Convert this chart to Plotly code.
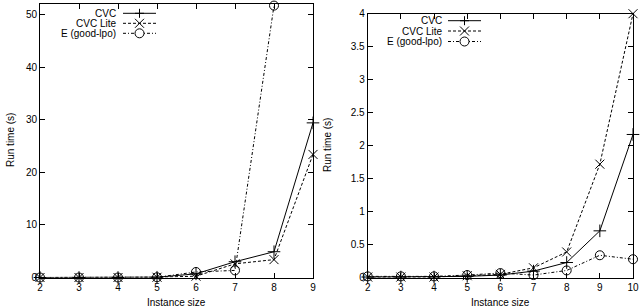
import plotly.graph_objects as go

# Left panel data
sizes_left = [2, 3, 4, 5, 6, 7, 8, 9]
cvc_left = [0.0, 0.0, 0.0, 0.05, 0.7, 3.0, 4.9, 29.4]
cvclite_left = [0.0, 0.0, 0.0, 0.05, 0.25, 2.6, 3.4, 23.4]
sizes_left_e = [2, 3, 4, 5, 6, 7, 8]
e_left = [0.0, 0.0, 0.0, 0.05, 1.05, 1.35, 51.7]

# Right panel data
sizes_right = [2, 3, 4, 5, 6, 7, 8, 9, 10]
cvc_right = [0.01, 0.01, 0.01, 0.02, 0.04, 0.10, 0.23, 0.71, 2.17]
cvclite_right = [0.01, 0.01, 0.01, 0.03, 0.05, 0.15, 0.39, 1.72, 4.0]
e_right = [0.02, 0.02, 0.02, 0.04, 0.07, 0.04, 0.11, 0.34, 0.28]

names = ["CVC", "CVC Lite", "E (good-lpo)"]
FONT = "Liberation Sans, Arial, sans-serif"
W, H = 640, 307

fig = go.Figure()

styles = [
    dict(dash="solid", symbol="cross-thin-open"),
    dict(dash="3px,2px", symbol="x-thin-open"),
    dict(dash="3px,2px,1px,2px", symbol="circle-open"),
]

def add(x, y, i, xa, ya):
    s = styles[i]
    fig.add_trace(go.Scatter(
        x=x, y=y, mode="lines+markers", name=names[i],
        line=dict(color="black", width=1, dash=s["dash"]),
        marker=dict(symbol=s["symbol"], size=9, color="black",
                    line=dict(color="black", width=1)),
        xaxis=xa, yaxis=ya, showlegend=False, cliponaxis=False,
    ))

add(sizes_left, cvc_left, 0, "x", "y")
add(sizes_left, cvclite_left, 1, "x", "y")
add(sizes_left_e, e_left, 2, "x", "y")
add(sizes_right, cvc_right, 0, "x2", "y2")
add(sizes_right, cvclite_right, 1, "x2", "y2")
add(sizes_right, e_right, 2, "x2", "y2")

axis_common = dict(
    showline=True, linecolor="black", linewidth=1, mirror="allticks",
    ticks="inside", ticklen=5, tickcolor="black", showgrid=False, zeroline=False,
    tickfont=dict(family=FONT, size=10, color="black"), automargin=False,
)

def px(x):
    return x / W

def py(y):
    return 1 - y / H

fig.update_layout(
    width=W, height=H,
    margin=dict(l=0, r=0, t=0, b=0),
    paper_bgcolor="white", plot_bgcolor="white",
    font=dict(family=FONT, size=10, color="black"),
    showlegend=False,
    xaxis=dict(domain=[px(40), px(313)], range=[2, 9], dtick=1, anchor="y", **axis_common),
    yaxis=dict(domain=[py(277.5), py(4)], range=[0, 52], dtick=10, anchor="x", **axis_common),
    xaxis2=dict(domain=[px(367.7), px(633)], range=[2, 10], dtick=1, anchor="y2", **axis_common),
    yaxis2=dict(domain=[py(277.7), py(13.7)], range=[0, 4], dtick=0.5, anchor="x2", **axis_common),
)

# Axis titles
for cx in (176, 500):
    fig.add_annotation(x=px(cx), y=py(302), xref="paper", yref="paper", text="Instance size",
                       showarrow=False, xanchor="center", yanchor="middle", font=dict(size=10))
for cx, cy in ((10, 140), (327, 145)):
    fig.add_annotation(x=px(cx), y=py(cy), xref="paper", yref="paper", text="Run time (s)",
                       showarrow=False, textangle=-90, xanchor="center", yanchor="middle", font=dict(size=10))

# Custom gnuplot-style legends (text right-aligned, then line sample with marker)
def legend(text_right, rows, x0, x1):
    xm = (x0 + x1) / 2
    for i, ry in enumerate(rows):
        fig.add_annotation(x=px(text_right), y=py(ry), xref="paper", yref="paper", text=names[i],
                           showarrow=False, xanchor="right", yanchor="middle", font=dict(size=10))
        fig.add_shape(type="line", xref="paper", yref="paper", x0=px(x0), x1=px(x1), y0=py(ry), y1=py(ry),
                      line=dict(color="black", width=1, dash=styles[i]["dash"]))
        r = 4.5
        if i == 0:
            segs = [((xm - r, ry), (xm + r, ry)), ((xm, ry - r), (xm, ry + r))]
        elif i == 1:
            segs = [((xm - r, ry - r), (xm + r, ry + r)), ((xm - r, ry + r), (xm + r, ry - r))]
        else:
            segs = None
        if segs:
            path = " ".join(f"M{px(a[0])},{py(a[1])} L{px(b[0])},{py(b[1])}" for a, b in segs)
            fig.add_shape(type="path", xref="paper", yref="paper", path=path,
                          line=dict(color="black", width=1))
        else:
            fig.add_shape(type="circle", xref="paper", yref="paper",
                          x0=px(xm - r), x1=px(xm + r), y0=py(ry - r), y1=py(ry + r),
                          line=dict(color="black", width=1), fillcolor="white")

legend(118, [13.3, 23.3, 33.3], 123, 156)
legend(443.5, [20.7, 31.0, 41.5], 448, 481)

fig.write_html("out.html", config={"displayModeBar": False},
               post_script="document.body.style.margin='0';document.body.style.overflow='hidden';")
